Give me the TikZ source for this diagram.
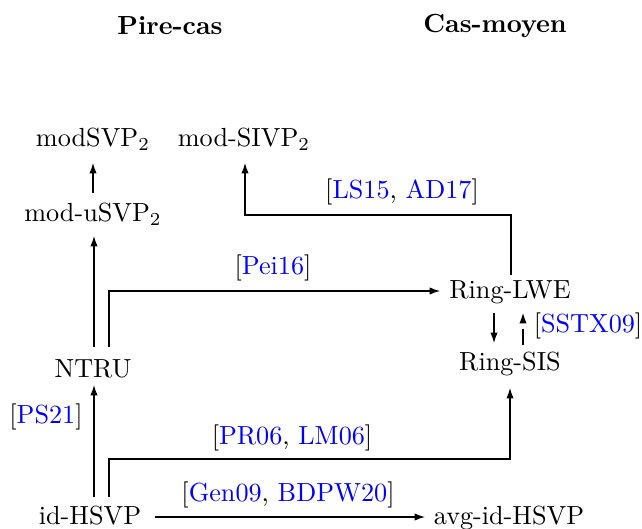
\documentclass[tikz,border=0pt]{standalone}
\usetikzlibrary{calc,arrows.meta}
\begin{document}
\begin{tikzpicture}[x=0.3817pt,y=-0.3817pt,
  prob/.style={anchor=base,inner sep=0pt},
  title/.style={anchor=base,inner sep=0pt,font=\bfseries},
  lbl/.style={anchor=base,inner sep=0pt},
  arr/.style={-{Latex[length=4pt,width=2.8pt]},line width=0.4pt},
  dasharr/.style={arr,dash pattern=on 6pt off 6pt}]
\useasboundingbox (0,0) rectangle (642,528);
% titles
\node[title] (tw) at (170,35) {Pire-cas};
\node[title] (ta) at (495,33) {Cas-moyen};
% problems
\node[prob] (msvp)   at (93,147)  {modSVP$_2$};
\node[prob] (msivp)  at (244,147) {mod-SIVP$_2$};
\node[prob] (musvp)  at (93,222)  {mod-uSVP$_2$};
\node[prob] (ntru)   at (93,377)  {NTRU};
\node[prob] (idhsvp) at (90,524)  {id-HSVP};
\node[prob] (rlwe)   at (510,298) {Ring-LWE};
\node[prob] (rsis)   at (510,370) {Ring-SIS};
\node[prob] (avg)    at (509,524) {avg-id-HSVP};
% arrows
\draw[arr] ($(musvp.base)+(0,-29)$) -- ($(msvp.base)+(0,16)$);
\draw[arr] ($(ntru.base)+(1,-30)$) -- ($(musvp.base)+(1,14)$);
\draw[arr] ($(ntru.base)+(16,-30)$) |- ($(rlwe.base)+(-70,-7)$);
\draw[arr] ($(rlwe.base)+(1,-23)$) |- ($(msivp.base)+(1,68)$) -- ($(msivp.base)+(1,16)$);
\draw[arr] ($(rlwe.base)+(-16,15)$) -- ($(rsis.base)+(-16,-27)$);
\draw[dasharr] ($(rsis.base)+(13,-25)$) -- ($(rlwe.base)+(13,15)$);
\draw[arr] ($(idhsvp.base)+(4,-27)$) -- ($(ntru.base)+(1,8)$);
\draw[arr] ($(idhsvp.base)+(19,-27)$) |- ($(rsis.base)+(0,89)$) -- ($(rsis.base)+(0,18)$);
\draw[arr] ($(idhsvp.base)+(65,-7)$) -- ($(avg.base)+(-84,-7)$);
% labels
\node[lbl] (l1) at (273,275) {[\textcolor{blue}{Pei16}]};
\node[lbl] (l2) at (402,199) {[\textcolor{blue}{LS15}, \textcolor{blue}{AD17}]};
\node[lbl] (l3) at (588,333) {[\textcolor{blue}{SSTX09}]};
\node[lbl] (l4) at (46,423)  {[\textcolor{blue}{PS21}]};
\node[lbl] (l5) at (292,444) {[\textcolor{blue}{PR06}, \textcolor{blue}{LM06}]};
\node[lbl] (l6) at (288,501) {[\textcolor{blue}{Gen09}, \textcolor{blue}{BDPW20}]};
\end{tikzpicture}
\end{document}
